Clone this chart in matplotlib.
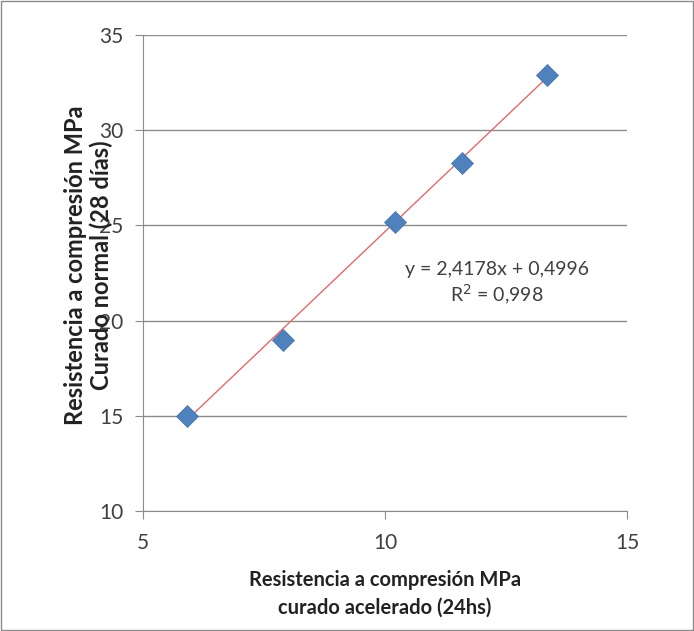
import matplotlib.pyplot as plt
from matplotlib.patches import Rectangle
import numpy as np

plt.rcParams['font.family'] = ['Lato', 'DejaVu Sans']

# datos
curado_acelerado = [5.9, 7.9, 10.2, 11.6, 13.35]
curado_normal = [15.0, 19.0, 25.2, 28.3, 32.9]
pendiente = 2.4178
ordenada = 0.4996
r2_texto = '0,998'

fig = plt.figure(figsize=(6.94, 6.31), dpi=100)
ax = fig.add_axes([0.206, 0.19, 0.6975, 0.7545])

# linea de tendencia
xt = np.array([min(curado_acelerado), max(curado_acelerado)])
ax.plot(xt, pendiente * xt + ordenada, color='#E06A6A', lw=1.0, zorder=2)
ax.plot(curado_acelerado, curado_normal, 'D', color='#4F81BD', markersize=11,
        markeredgecolor='#3F6FA8', markeredgewidth=0.5, zorder=3)

ax.set_xlim(5, 15)
ax.set_ylim(10, 35)
ax.set_xticks([5, 10, 15])
ax.set_yticks([10, 15, 20, 25, 30, 35])
ax.yaxis.grid(True, color='#8C8C8C', lw=1.0)
ax.set_axisbelow(True)
for s in ['top', 'right']:
    ax.spines[s].set_visible(False)
for s in ['left', 'bottom']:
    ax.spines[s].set_color('#8C8C8C')
ax.tick_params(axis='both', colors='#8C8C8C', labelcolor='#404040', labelsize=15,
               length=6)
ax.tick_params(axis='x', pad=10)
ax.tick_params(axis='y', pad=8)

ax.text(0.731, 0.477, f'y = {pendiente:.4f}x + {ordenada:.4f}'.replace('.', ',') +
        '\nR$^2$ = ' + r2_texto,
        transform=ax.transAxes, ha='center', va='center', fontsize=14,
        color='#404040', linespacing=1.3)

ax.set_xlabel('Resistencia a compresión MPa\ncurado acelerado (24hs)',
              fontsize=14.5, fontweight='bold', color='#222222', labelpad=12,
              linespacing=1.45)
fig.text(0.128, 0.58, 'Resistencia a compresión MPa\nCurado normal (28 días)',
         rotation=90, ha='center', va='center', fontsize=17, fontweight='bold',
         color='#222222', multialignment='center', linespacing=1.15)

fig.patches.append(Rectangle((0.002, 0.002), 0.996, 0.996, transform=fig.transFigure,
                             fill=False, edgecolor='#8C8C8C', lw=1.0))

fig.savefig('out.png', dpi=100)
